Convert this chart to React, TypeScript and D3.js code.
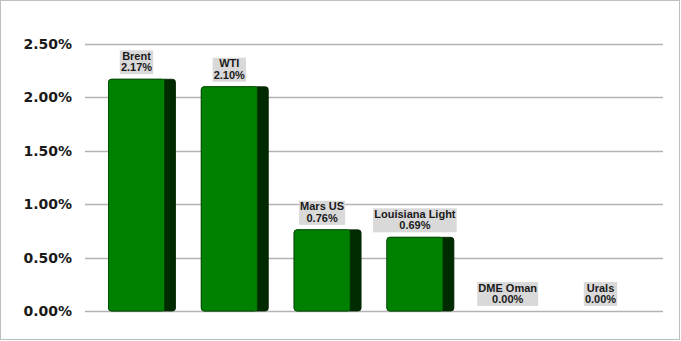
import React from "react";
import * as d3 from "d3";

const categories = ["Brent", "WTI", "Mars US", "Louisiana Light", "DME Oman", "Urals"];
const values = [2.17, 2.1, 0.76, 0.69, 0.0, 0.0];
const yTicks = [0, 0.5, 1.0, 1.5, 2.0, 2.5];

const W = 681;
const H = 341;

export default function App() {
  const y = d3.scaleLinear().domain([0, 2.5]).range([311, 44]);
  const x = d3.scaleBand<string>().domain(categories).range([88, 88 + 6 * 92.8]).padding(0);
  const gridX0 = 85;
  const gridX1 = 663;
  const frontOff = 20.5;
  const frontW = 56;
  const sideW = 11;
  const fmt = (v: number) => v.toFixed(2) + "%";

  return (
    <svg width={W} height={H} style={{ position: "absolute", left: 0, top: 0, background: "#fff" }}>
      <rect x={0.5} y={0.5} width={W - 2} height={H - 2} fill="#fff" stroke="#bfbfbf" strokeWidth={1} />
      {yTicks.map((t) => (
        <g key={t}>
          <line x1={gridX0} x2={gridX1} y1={Math.round(y(t)) + 0.5} y2={Math.round(y(t)) + 0.5} stroke="#b3b3b3" strokeWidth={1.3} />
          <text
            x={72}
            y={y(t)}
            dy="0.36em"
            textAnchor="end"
            fontFamily="DejaVu Sans, Verdana, sans-serif"
            fontWeight="bold"
            fontSize={14}
            fill="#1a1a1a"
          >
            {fmt(t)}
          </text>
        </g>
      ))}
      {categories.map((c, i) => {
        const v = values[i];
        const bx = (x(c) as number) + frontOff;
        const top = y(v);
        const bottom = y(0);
        const h = bottom - top;
        const cx = bx + frontW / 2;
        const lines = [c, fmt(v)];
        const fs = 11;
        const labelW = Math.max(c.length, 5) * 0;
        const labelBottom = top - 5;
        return (
          <g key={c}>
            {h > 0 && (
              <g>
                <rect x={bx} y={top} width={frontW + sideW} height={h} rx={3} ry={3} fill="#002b00" stroke="#002200" strokeWidth={0.8} />
                <rect x={bx} y={top} width={frontW} height={h} rx={3} ry={3} fill="#008000" stroke="#005000" strokeWidth={0.8} />
                <rect x={bx + frontW - 3} y={top + 0.4} width={3} height={h - 0.8} fill="#008000" />
                <line x1={bx + frontW} x2={bx + frontW} y1={top} y2={bottom} stroke="#002200" strokeWidth={0.6} />
              </g>
            )}
            <Label cx={cx} bottom={labelBottom} lines={lines} fs={fs} />
            {labelW > 0 && null}
          </g>
        );
      })}
    </svg>
  );
}

function Label({ cx, bottom, lines, fs }: { cx: number; bottom: number; lines: string[]; fs: number }) {
  const ref = React.useRef<SVGGElement>(null);
  const [w, setW] = React.useState(0);
  React.useLayoutEffect(() => {
    if (ref.current) {
      const bb = ref.current.getBBox();
      setW(bb.width);
    }
  }, []);
  const lh = 11.5;
  const boxH = lh * lines.length + 1;
  const top = bottom - boxH;
  return (
    <g>
      {w > 0 && <rect x={cx - w / 2 - 1} y={top} width={w + 2} height={boxH} fill="#d9d9d9" />}
      <g ref={ref}>
        {lines.map((l, k) => (
          <text
            key={k}
            x={cx}
            y={top + lh * (k + 1) - 2}
            textAnchor="middle"
            fontFamily="Liberation Sans, Arial, sans-serif"
            fontWeight="bold"
            fontSize={fs}
            fill="#1a1a1a"
          >
            {l}
          </text>
        ))}
      </g>
    </g>
  );
}
